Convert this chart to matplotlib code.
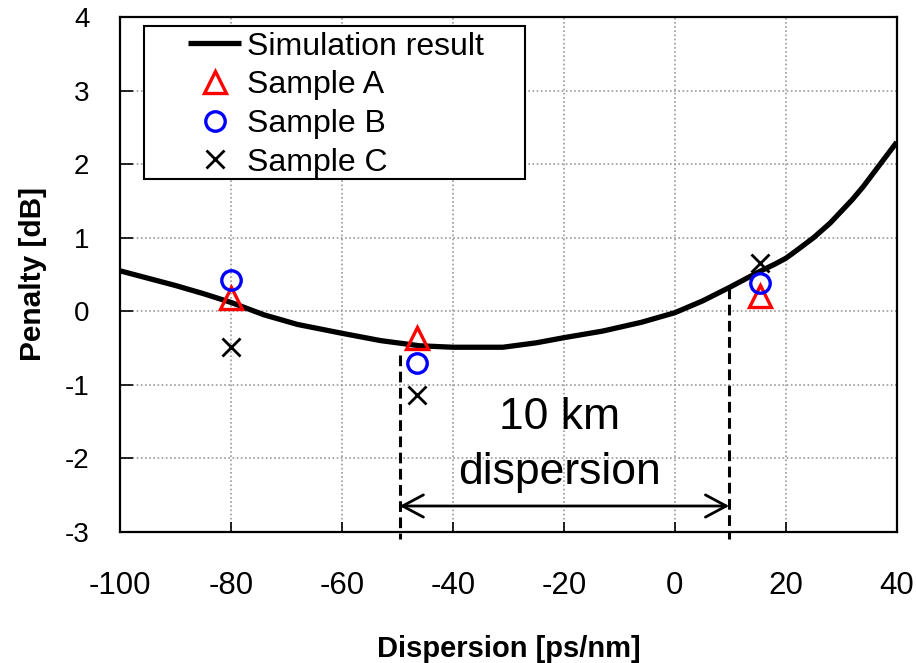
import matplotlib
import matplotlib.pyplot as plt
from matplotlib.patches import Rectangle

matplotlib.use("Agg")

plt.rcParams["font.family"] = ["Liberation Sans", "DejaVu Sans"]
plt.rcParams["axes.unicode_minus"] = False

OUTPUT_FILE = "out.png"

# simulated penalty curve
sim_disp = [-100, -90, -85, -80, -74, -68, -60, -53, -46, -40, -31, -25, -20, -13,
            -6, 0, 5, 10, 15, 18, 20, 22, 25, 28, 30, 32, 34, 36, 38, 40]
sim_penalty = [0.55, 0.35, 0.24, 0.12, -0.05, -0.18, -0.30, -0.40, -0.47, -0.49, -0.49,
               -0.43, -0.36, -0.27, -0.15, -0.02, 0.14, 0.33, 0.53, 0.64, 0.72, 0.83,
               1.0, 1.2, 1.36, 1.52, 1.70, 1.90, 2.10, 2.30]

# measured samples
sample_disp = [-80, -46.5, 15.3]
sample_a = [0.18, -0.36, 0.21]
sample_b = [0.43, -0.70, 0.39]
sample_c = [-0.49, -1.14, 0.66]

# 10 km dispersion span
span_start, span_end = -49.6, 9.8
span_top = [-0.6, 0.31]
span_arrow_y = -2.65

x_ticks = [-100, -80, -60, -40, -20, 0, 20, 40]
y_ticks = [-3, -2, -1, 0, 1, 2, 3, 4]

fig = plt.figure(figsize=(9.16, 6.63), dpi=100)
ax = fig.add_axes([0.131, 0.198, 0.848, 0.776])

ax.plot(sim_disp, sim_penalty, color="black", lw=3.8, label="Simulation result",
        zorder=3, solid_capstyle="butt", solid_joinstyle="round")
ax.plot(sample_disp, sample_a, ls="none", marker="^", ms=16, mfc="none", mec="red",
        mew=2.4, label="Sample A", zorder=4)
ax.plot(sample_disp, sample_b, ls="none", marker="o", ms=14, mfc="none", mec="blue",
        mew=2.4, label="Sample B", zorder=4)
ax.plot(sample_disp, sample_c, ls="none", marker="x", ms=13, mec="black",
        mew=2.0, label="Sample C", zorder=4)

# dashed markers of the span and the double arrow
for xs, yt in zip([span_start, span_end], span_top):
    ax.plot([xs, xs], [yt, -3.1], color="black", lw=2.2, ls=(0, (3.5, 1.8)),
            clip_on=False, zorder=3)
ax.annotate("", xy=(span_end, span_arrow_y), xytext=(span_start, span_arrow_y),
            arrowprops=dict(arrowstyle="<->,head_length=0.6,head_width=0.32",
                            lw=2, color="black", shrinkA=0, shrinkB=0,
                            mutation_scale=25))
ax.text(-20.7, -1.82, "10 km\ndispersion", fontsize=32, ha="center", va="center",
        linespacing=1.42)

ax.set_xlim(-100, 40)
ax.set_ylim(-3, 4)
ax.set_xticks(x_ticks)
ax.set_yticks(y_ticks)
ax.tick_params(axis="x", direction="in", length=7, width=1.2, labelsize=22.5, pad=28)
ax.tick_params(axis="y", direction="in", length=9, width=1.2, labelsize=20, pad=22)
ax.grid(True, color="#999999", ls=(0, (1, 1.5)), lw=1.2)
for sp in ax.spines.values():
    sp.set_linewidth(1.6)

ax.set_xlabel("Dispersion [ps/nm]", fontsize=21, fontweight="bold", labelpad=25)
ax.set_ylabel("Penalty [dB]", fontsize=21.5, fontweight="bold", labelpad=13)

# legend box drawn by hand so its size can be set freely
ax.add_patch(Rectangle((0.031, 0.685), 0.49, 0.298, transform=ax.transAxes,
                       facecolor="white", edgecolor="black", lw=1.5, zorder=5))
leg = ax.legend(loc="upper left", bbox_to_anchor=(0.088, 0.972), frameon=False,
                fontsize=23, handlelength=1.65, handletextpad=0.2,
                labelspacing=0.27, borderpad=0, borderaxespad=0)
leg.set_zorder(6)

plt.savefig(OUTPUT_FILE, dpi=100)
plt.close()
